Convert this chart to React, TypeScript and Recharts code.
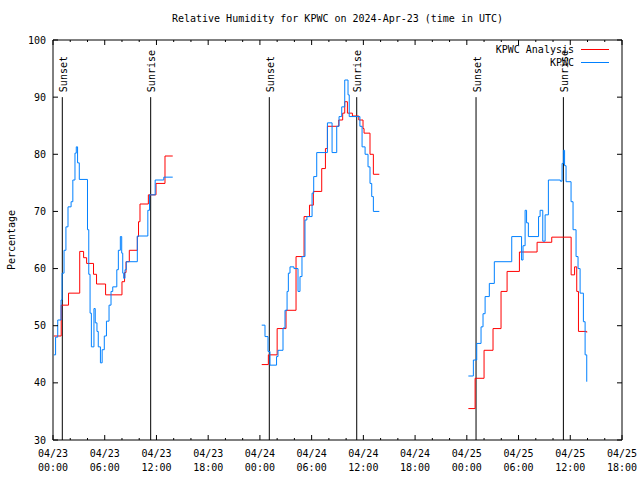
import { LineChart, Line, XAxis, YAxis, ReferenceLine } from 'recharts';

// hours since 04/23 00:00 UTC; null breaks the line between the three runs
const analysisHours = [
  0.1, 0.95, 1.8, 3.1, 3.55, 3.9, 4.7, 5.05, 6.1, 8.0, 8.3, 8.47, 8.85, 9.78, 9.92, 10.09, 11.06, 11.95, 12.99, 13.89,
  19,
  24.21, 24.98, 26.0, 27.03, 28.19, 29.12, 29.75, 30.2, 31.17, 31.6, 31.83, 33.14, 33.6, 33.84, 34.15, 34.73, 35.47, 35.96, 36.08, 36.77, 37.16, 37.85,
  43,
  48.18, 48.96, 50.0, 51.04, 51.97, 52.67, 54.1, 56.15, 57.85, 60.1, 60.5, 60.75, 60.95, 61.91,
];
const analysisValues = [
  48.2, 53.6, 55.7, 63.0, 61.9, 60.9, 59.0, 57.3, 55.4, 57.7, 59.3, 61.2, 63.2, 65.6, 68.2, 71.3, 72.9, 74.9, 79.7, 79.7,
  null,
  43.2, 44.9, 49.5, 52.7, 62.1, 69.1, 71.1, 73.5, 77.5, 81.0, 84.9, 86.0, 87.2, 89.2, 87.2, 86.7, 86.0, 84.5, 83.7, 80.0, 76.5, 76.5,
  null,
  35.5, 40.8, 45.7, 49.5, 56.0, 59.5, 62.9, 64.6, 65.5, 58.9, 60.3, 56.0, 49.0, 48.8,
];

const observedHours = [
  0.1, 0.3, 0.55, 0.93, 1.05, 1.28, 1.5, 1.74, 2.1, 2.3, 2.55, 2.7, 2.85, 3.05, 4.0, 4.15, 4.3, 4.45, 4.75, 4.9, 5.1, 5.25, 5.5, 5.7, 5.95, 6.2, 6.5, 6.73, 6.93, 7.4, 7.58, 7.81, 7.97, 8.09, 8.2, 8.35, 8.5, 9.78, 11.0, 11.2, 11.85, 12.85, 13.89,
  19,
  24.21, 24.59, 24.94, 25.17, 25.93, 26.1, 26.68, 26.91, 27.15, 27.3, 27.49, 27.95, 28.42, 28.65, 28.88, 29.23, 29.45, 30.05, 30.24, 30.59, 31.83, 32.37, 32.91, 33.18, 33.49, 33.84, 34.22, 34.36, 35.6, 35.85, 36.2, 36.54, 36.77, 36.97, 37.16, 37.85,
  43,
  48.18, 48.76, 49.15, 49.65, 49.88, 50.12, 50.61, 51.19, 53.21, 54.35, 54.52, 54.76, 54.93, 55.14, 56.32, 56.5, 56.81, 57.08, 57.46, 58.85, 59.05, 59.2, 59.34, 59.51, 60.09, 60.32, 60.67, 60.9, 61.14, 61.52, 61.72, 61.91,
];
const observedValues = [
  44.9, 48.0, 51.0, 54.5, 59.2, 63.2, 67.3, 70.8, 71.7, 75.5, 80.2, 81.3, 78.5, 75.6, 66.8, 59.0, 52.2, 46.3, 53.0, 50.5, 49.0, 46.3, 43.5, 45.8, 48.2, 50.8, 53.6, 56.0, 56.8, 59.8, 63.2, 65.6, 62.7, 59.2, 58.3, 59.8, 61.2, 65.7, 70.2, 72.9, 75.5, 76.0, 76.0,
  null,
  50.1, 48.1, 45.5, 43.1, 44.6, 45.7, 49.6, 52.7, 56.0, 59.2, 60.3, 60.0, 56.0, 58.6, 62.1, 68.5, 69.1, 73.2, 76.1, 80.3, 85.5, 80.3, 84.9, 86.6, 88.3, 93.0, 90.4, 86.6, 84.9, 81.3, 80.0, 77.8, 74.9, 72.6, 70.0, 70.0,
  null,
  41.2, 44.0, 46.9, 49.8, 52.1, 55.1, 57.4, 61.2, 65.6, 61.5, 64.0, 70.2, 68.0, 65.6, 69.1, 70.2, 64.8, 69.4, 75.5, 75.3, 78.4, 80.7, 78.0, 75.2, 71.7, 66.8, 62.1, 60.0, 55.7, 50.7, 44.9, 40.2,
];

const sunHours = [1.08, 11.33, 25.09, 35.23, 49.07, 59.2];
const sunLabels = ['Sunset', 'Sunrise', 'Sunset', 'Sunrise', 'Sunset', 'Sunrise'];

const xTicks = [0, 6, 12, 18, 24, 30, 36, 42, 48, 54, 60, 66];
const xTickDates = ['04/23', '04/23', '04/23', '04/23', '04/24', '04/24', '04/24', '04/24', '04/25', '04/25', '04/25', '04/25'];
const xTickTimes = ['00:00', '06:00', '12:00', '18:00', '00:00', '06:00', '12:00', '18:00', '00:00', '06:00', '12:00', '18:00'];
const xMinorTicks = [2, 4, 8, 10, 14, 16, 20, 22, 26, 28, 32, 34, 38, 40, 44, 46, 50, 52, 56, 58, 62, 64];
const yTicks = [30, 40, 50, 60, 70, 80, 90, 100];

const FONT = '"DejaVu Sans Mono", monospace';
const RED = '#ff0000';
const BLUE = '#0080ff';

const analysisData = analysisHours.map((h, i) => ({ h, v: analysisValues[i] }));
const observedData = observedHours.map((h, i) => ({ h, v: observedValues[i] }));
const allXTicks = [...xTicks, ...xMinorTicks].sort((a, b) => a - b);

// ticks point into the plot, like gnuplot; dir = -1 for bottom/right, 1 for top/left
function BottomTick({ x, y, payload }: any) {
  const i = xTicks.indexOf(payload.value);
  const major = i >= 0;
  return (
    <g>
      <line x1={x} y1={y} x2={x} y2={y - (major ? 5 : 2)} stroke="#000" />
      {major && (
        <text x={x} y={y} textAnchor="middle" fontFamily={FONT} fontSize={10} fill="#000">
          <tspan x={x} y={y + 17}>{xTickDates[i]}</tspan>
          <tspan x={x} y={y + 31}>{xTickTimes[i]}</tspan>
        </text>
      )}
    </g>
  );
}

function TopTick({ x, y, payload }: any) {
  const major = xTicks.includes(payload.value);
  return <line x1={x} y1={y} x2={x} y2={y + (major ? 5 : 2)} stroke="#000" />;
}

function LeftTick({ x, y, payload }: any) {
  return (
    <g>
      <line x1={x} y1={y} x2={x + 5} y2={y} stroke="#000" />
      <text x={x - 7} y={y + 3.5} textAnchor="end" fontFamily={FONT} fontSize={10} fill="#000">
        {payload.value}
      </text>
    </g>
  );
}

function RightTick({ x, y }: any) {
  return <line x1={x} y1={y} x2={x - 5} y2={y} stroke="#000" />;
}

function sunLabel(text: string) {
  return ({ viewBox }: any) => {
    const x = viewBox.x + 4.5;
    const y = viewBox.y - 5;
    return (
      <text x={x} y={y} transform={`rotate(-90 ${x} ${y})`} textAnchor="start" fontFamily={FONT} fontSize={10} fill="#000">
        {text}
      </text>
    );
  };
}

function yLabel({ viewBox }: any) {
  const x = 15;
  const y = viewBox.y + viewBox.height / 2;
  return (
    <text x={x} y={y} transform={`rotate(-90 ${x} ${y})`} textAnchor="middle" fontFamily={FONT} fontSize={10} fill="#000">
      Percentage
    </text>
  );
}

const legendRows = [
  { name: 'KPWC Analysis', color: RED, top: 43 },
  { name: 'KPWC', color: BLUE, top: 56 },
];

export default function App() {
  return (
    <div style={{ position: 'absolute', left: 0, top: 0, width: 640, height: 480, background: '#fff' }}>
      <LineChart width={640} height={480} margin={{ top: 39, right: 17, bottom: 0, left: 0 }}>
        <XAxis
          dataKey="h"
          type="number"
          domain={[0, 66]}
          allowDataOverflow
          ticks={allXTicks}
          interval={0}
          height={40}
          tickSize={0}
          tickMargin={0}
          tickLine={false}
          stroke="#000"
          tick={<BottomTick />}
        />
        <XAxis
          xAxisId="top"
          orientation="top"
          dataKey="h"
          type="number"
          domain={[0, 66]}
          allowDataOverflow
          ticks={allXTicks}
          interval={0}
          height={1}
          tickSize={0}
          tickMargin={0}
          tickLine={false}
          stroke="#000"
          tick={<TopTick />}
        />
        <YAxis
          type="number"
          domain={[30, 100]}
          allowDataOverflow
          ticks={yTicks}
          interval={0}
          width={53}
          tickSize={0}
          tickMargin={0}
          tickLine={false}
          stroke="#000"
          tick={<LeftTick />}
          label={yLabel}
        />
        <YAxis
          yAxisId="right"
          orientation="right"
          type="number"
          domain={[30, 100]}
          allowDataOverflow
          ticks={yTicks}
          interval={0}
          width={1}
          tickSize={0}
          tickMargin={0}
          tickLine={false}
          stroke="#000"
          tick={<RightTick />}
        />
        {sunHours.map((h, i) => (
          <ReferenceLine
            key={i}
            segment={[{ x: h, y: 30 }, { x: h, y: 90 }]}
            stroke="#000"
            strokeWidth={1}
            label={sunLabel(sunLabels[i])}
          />
        ))}
        <Line data={analysisData} dataKey="v" type="stepAfter" stroke={RED} strokeWidth={1} dot={false}
          connectNulls={false} isAnimationActive={false} />
        <Line data={observedData} dataKey="v" type="stepAfter" stroke={BLUE} strokeWidth={1} dot={false}
          connectNulls={false} isAnimationActive={false} />
      </LineChart>
      <div style={{ position: 'absolute', left: 53, width: 569, top: 13, lineHeight: '12px', textAlign: 'center', fontFamily: FONT, fontSize: 10, color: '#000' }}>
        Relative Humidity for KPWC on 2024-Apr-23 (time in UTC)
      </div>
      {legendRows.map((r) => (
        <div key={r.name} style={{ position: 'absolute', right: 31, top: r.top, height: 13, display: 'flex', alignItems: 'center', fontFamily: FONT, fontSize: 10, color: '#000' }}>
          <span>{r.name}</span>
          <div style={{ width: 28, height: 0, borderTop: `1px solid ${r.color}`, marginLeft: 7 }} />
        </div>
      ))}
    </div>
  );
}
